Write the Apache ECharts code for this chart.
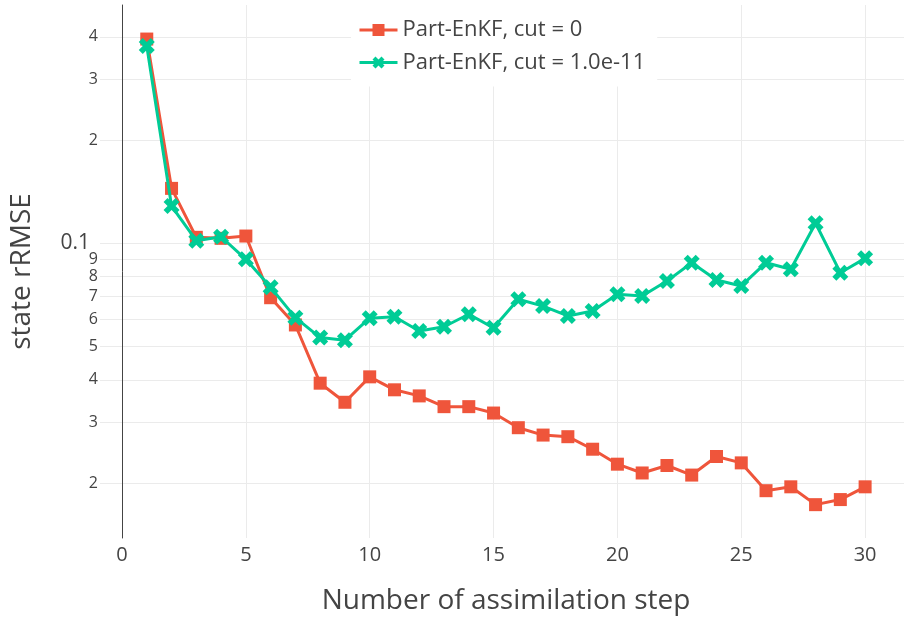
<!DOCTYPE html>
<html>
<head>
<meta charset="utf-8">
<script src="https://cdn.jsdelivr.net/npm/echarts@6/dist/echarts.min.js"></script>
<style>
  html, body { margin: 0; padding: 0; background: #fff; }
  #chart { width: 904px; height: 619px; }
</style>
</head>
<body>
<div id="chart"></div>
<script>
// Assimilation step index
const steps = [1, 2, 3, 4, 5, 6, 7, 8, 9, 10, 11, 12, 13, 14, 15,
               16, 17, 18, 19, 20, 21, 22, 23, 24, 25, 26, 27, 28, 29, 30];

// state rRMSE, Part-EnKF with cut = 0
const rmseCut0 = [0.394, 0.1446, 0.1041, 0.1034, 0.1050, 0.0694, 0.0578, 0.0391, 0.0344, 0.0408,
                  0.0374, 0.0359, 0.0334, 0.0334, 0.0320, 0.0290, 0.0276, 0.0273, 0.0251, 0.0227,
                  0.0214, 0.0225, 0.0211, 0.0239, 0.0229, 0.0190, 0.0195, 0.0173, 0.0179, 0.0195];

// state rRMSE, Part-EnKF with cut = 1.0e-11
const rmseCut1e11 = [0.376, 0.1284, 0.1018, 0.1045, 0.0898, 0.0744, 0.0607, 0.0531, 0.0522, 0.0605,
                     0.0611, 0.0555, 0.0571, 0.0621, 0.0567, 0.0687, 0.0656, 0.0614, 0.0635, 0.0710,
                     0.0702, 0.0776, 0.0878, 0.0782, 0.0751, 0.0878, 0.0840, 0.1144, 0.0821, 0.0904];

// Log-axis tick positions
const yTickValues = [0.02, 0.03, 0.04, 0.05, 0.06, 0.07, 0.08, 0.09, 0.1, 0.2, 0.3, 0.4];

const seriesNames = ['Part-EnKF, cut = 0', 'Part-EnKF, cut = 1.0e-11'];

const FONT = '"Open Sans", "Noto Sans", sans-serif';
const TEXT = '#444';
const GRID = '#ebebeb';

// Thick "x" marker outline
const crossSymbol = 'path://M0,1 L1,2 L2,1 L1,0 L2,-1 L1,-2 L0,-1 L-1,-2 L-2,-1 L-1,0 L-2,1 L-1,2 Z';

function pairs(ys) {
  return steps.map((s, i) => [s, ys[i]]);
}

function yLabel(v) {
  if (Math.abs(v - 0.1) < 1e-9) return '{big|0.1}';
  const digit = v < 0.1 ? Math.round(v * 100) : Math.round(v * 10);
  return String(digit);
}

const chart = echarts.init(document.getElementById('chart'), null, { renderer: 'canvas' });

chart.setOption({
  backgroundColor: '#fff',
  animation: false,
  textStyle: { fontFamily: FONT, color: TEXT },
  grid: { left: 122, right: 0, top: 5, bottom: 81, containLabel: false, outerBoundsMode: 'none' },
  legend: {
    orient: 'vertical',
    left: 351,
    top: 5,
    padding: [14, 12, 13, 7],
    backgroundColor: '#fff',
    itemWidth: 38,
    itemHeight: 15,
    itemGap: 10.5,
    lineStyle: { width: 3 },
    textStyle: { fontFamily: FONT, fontSize: 22, color: TEXT, lineHeight: 22 },
    data: seriesNames
  },
  xAxis: {
    type: 'value',
    min: 0,
    max: 31.57,
    interval: 5,
    name: 'Number of assimilation step',
    nameLocation: 'middle',
    nameGap: 49,
    nameTextStyle: { fontFamily: FONT, fontSize: 28, color: TEXT, padding: [0, 14, 0, 0] },
    axisLine: { show: false },
    axisTick: { show: false },
    axisLabel: {
      fontFamily: FONT, fontSize: 20, color: TEXT, margin: 7,
      formatter: v => (v % 5 === 0 && v <= 30 ? String(v) : '')
    },
    splitLine: {
      show: true, showMinLine: true, showMaxLine: false,
      lineStyle: { color: GRID, width: 1 }
    }
  },
  yAxis: {
    type: 'log',
    logBase: 10,
    min: 0.01383,
    max: 0.4952,
    name: 'state rRMSE',
    nameLocation: 'middle',
    nameRotate: 90,
    nameGap: 86,
    nameTextStyle: { fontFamily: FONT, fontSize: 28, color: TEXT },
    axisLine: { show: true, lineStyle: { color: TEXT, width: 1 } },
    axisTick: {
      show: true, inside: false, length: 22,
      lineStyle: { color: GRID, width: 1 },
      customValues: yTickValues
    },
    axisLabel: {
      fontFamily: FONT, fontSize: 16, color: TEXT, margin: 24,
      customValues: yTickValues,
      formatter: yLabel,
      rich: { big: { fontFamily: FONT, fontSize: 21, color: TEXT, padding: [0, 8, 0, 0] } }
    },
    splitLine: { show: true, lineStyle: { color: GRID, width: 1 } },
    minorTick: { show: false },
    minorSplitLine: { show: false }
  },
  series: [
    {
      name: seriesNames[0],
      type: 'line',
      data: pairs(rmseCut0),
      symbol: 'rect',
      symbolSize: 13,
      showAllSymbol: true,
      color: '#EF553B',
      lineStyle: { width: 3, color: '#EF553B' },
      itemStyle: { color: '#EF553B' },
      z: 2
    },
    {
      name: seriesNames[1],
      type: 'line',
      data: pairs(rmseCut1e11),
      symbol: crossSymbol,
      symbolSize: 16,
      showAllSymbol: true,
      color: '#00CC96',
      lineStyle: { width: 3, color: '#00CC96' },
      itemStyle: { color: '#00CC96' },
      z: 3
    }
  ]
});
</script>
</body>
</html>
